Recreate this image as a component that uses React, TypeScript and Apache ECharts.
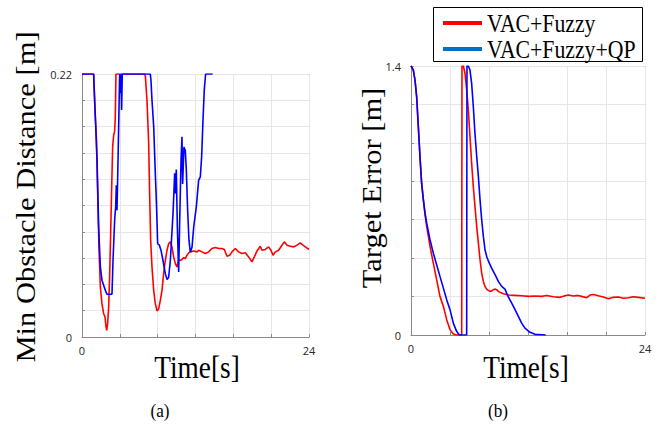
import React, { useEffect, useRef } from "react";
import * as echarts from "echarts";

// ---- Data ----
// (a) Min obstacle distance [m] vs time [s]
const timeDistFuzzy = [0, 1.23, 1.37, 1.52, 1.66, 1.8, 1.94, 2.11, 2.29, 2.43, 2.54, 2.61, 2.71, 2.82, 2.92, 3.03, 3.14, 3.24, 3.35, 3.45, 3.52, 3.59, 6.63, 6.7, 6.87, 7.05, 7.15, 7.26, 7.4, 7.58, 7.75, 7.93, 8.11, 8.28, 8.46, 8.63, 8.81, 8.99, 9.16, 9.34, 9.51, 9.69, 9.87, 10.04, 10.22, 10.4, 10.57, 10.75, 10.92, 11.1, 11.28, 11.45, 11.81, 12.16, 12.33, 12.69, 13.04, 13.39, 13.74, 14.1, 14.45, 14.8, 15.05, 15.33, 15.61, 15.86, 16.21, 16.56, 16.92, 17.27, 17.62, 17.97, 18.22, 18.5, 18.85, 19.03, 19.38, 19.73, 19.98, 20.19, 20.44, 20.79, 21.14, 21.39, 21.67, 22.03, 22.38, 22.73, 23.08, 23.36, 23.72, 24];
const distFuzzy = [0.22, 0.22, 0.19, 0.1675, 0.12, 0.0726, 0.0419, 0.0279, 0.0195, 0.0168, 0.0084, 0.0056, 0.0112, 0.0251, 0.0503, 0.0866, 0.1256, 0.159, 0.169, 0.172, 0.184, 0.22, 0.22, 0.218, 0.198, 0.162, 0.12, 0.081, 0.0586, 0.039, 0.0279, 0.0218, 0.0237, 0.0307, 0.039, 0.053, 0.0642, 0.0726, 0.078, 0.0796, 0.0754, 0.067, 0.0614, 0.0586, 0.0642, 0.0642, 0.0648, 0.0664, 0.0656, 0.0684, 0.0704, 0.0712, 0.072, 0.0712, 0.0726, 0.0712, 0.0698, 0.0712, 0.074, 0.0748, 0.074, 0.074, 0.0732, 0.0676, 0.0684, 0.0712, 0.074, 0.0712, 0.0698, 0.0704, 0.067, 0.0628, 0.067, 0.072, 0.0759, 0.0726, 0.0732, 0.0754, 0.0726, 0.0684, 0.0712, 0.0726, 0.0768, 0.0796, 0.0768, 0.0759, 0.0754, 0.0768, 0.0787, 0.0768, 0.0748, 0.0732];
const timeDistQP = [0, 1.23, 1.59, 1.76, 1.94, 2.11, 2.47, 2.64, 3.17, 3.28, 3.45, 3.56, 3.63, 3.7, 3.81, 3.91, 3.98, 4.05, 4.12, 4.19, 4.26, 7.22, 7.29, 7.4, 7.58, 7.75, 7.86, 8.0, 8.18, 8.35, 8.56, 8.81, 8.99, 9.16, 9.34, 9.62, 9.8, 9.87, 9.97, 10.08, 10.22, 10.33, 10.47, 10.57, 10.64, 10.78, 10.92, 11.03, 11.17, 11.31, 11.45, 11.63, 11.81, 12.09, 12.33, 12.51, 12.65, 12.79, 12.93, 13.07, 13.81];
const distQP = [0.22, 0.22, 0.148, 0.092, 0.0586, 0.0475, 0.039, 0.0357, 0.0357, 0.0642, 0.0977, 0.109, 0.127, 0.106, 0.148, 0.19, 0.22, 0.204, 0.22, 0.19, 0.22, 0.22, 0.215, 0.198, 0.176, 0.137, 0.1145, 0.078, 0.0768, 0.0726, 0.0642, 0.053, 0.048, 0.05, 0.064, 0.103, 0.137, 0.12, 0.14, 0.092, 0.0544, 0.0977, 0.148, 0.1675, 0.128, 0.159, 0.156, 0.14, 0.106, 0.081, 0.071, 0.075, 0.092, 0.109, 0.131, 0.134, 0.151, 0.181, 0.207, 0.22, 0.22];

// (b) Target error [m] vs time [s]
const timeErrFuzzy = [0, 0.24, 0.41, 0.58, 0.75, 0.92, 1.09, 1.27, 1.44, 1.61, 1.95, 2.29, 2.63, 2.97, 3.32, 3.66, 4.0, 4.34, 4.68, 5.2, 5.23, 5.37, 5.54, 5.71, 5.88, 6.05, 6.22, 6.39, 6.56, 6.74, 6.91, 7.08, 7.25, 7.42, 7.59, 7.76, 7.93, 8.1, 8.27, 8.45, 8.62, 8.79, 8.96, 9.13, 9.47, 9.98, 10.67, 11.35, 12.03, 12.72, 13.4, 13.92, 14.6, 15.28, 15.8, 16.14, 16.65, 17.16, 17.51, 18.02, 18.36, 18.7, 19.22, 19.73, 20.24, 20.75, 21.27, 21.78, 22.29, 22.8, 23.32, 24];
const errFuzzy = [1.4, 1.379, 1.327, 1.24, 1.085, 0.929, 0.79, 0.703, 0.625, 0.565, 0.461, 0.374, 0.288, 0.201, 0.149, 0.08, 0.028, 0.005, 0, 0, 1.4, 1.4, 1.362, 1.275, 1.171, 1.033, 0.894, 0.773, 0.669, 0.565, 0.478, 0.392, 0.322, 0.279, 0.253, 0.239, 0.232, 0.227, 0.229, 0.236, 0.239, 0.236, 0.227, 0.222, 0.215, 0.208, 0.206, 0.204, 0.201, 0.203, 0.201, 0.206, 0.199, 0.196, 0.204, 0.208, 0.203, 0.206, 0.201, 0.194, 0.208, 0.211, 0.204, 0.198, 0.189, 0.196, 0.198, 0.191, 0.194, 0.199, 0.196, 0.191];
const timeErrQP = [0, 0.24, 0.41, 0.58, 0.75, 0.92, 1.09, 1.27, 1.44, 1.61, 1.95, 2.29, 2.63, 2.97, 3.32, 3.66, 4.0, 4.34, 4.68, 4.96, 5.71, 5.74, 5.88, 6.05, 6.22, 6.39, 6.56, 6.74, 6.91, 7.08, 7.25, 7.42, 7.59, 7.76, 7.93, 8.27, 8.62, 8.96, 9.3, 9.64, 9.81, 9.98, 10.33, 10.67, 11.01, 11.35, 11.69, 12.21, 12.72, 13.81];
const errQP = [1.4, 1.379, 1.327, 1.24, 1.085, 0.929, 0.79, 0.703, 0.634, 0.582, 0.496, 0.426, 0.366, 0.305, 0.244, 0.184, 0.132, 0.062, 0.019, 0, 0, 1.4, 1.4, 1.379, 1.31, 1.189, 1.05, 0.929, 0.825, 0.703, 0.6, 0.513, 0.444, 0.409, 0.386, 0.348, 0.314, 0.279, 0.253, 0.239, 0.218, 0.198, 0.166, 0.132, 0.097, 0.062, 0.036, 0.014, 0.0035, 0];

const seriesNames = ["VAC+Fuzzy", "VAC+Fuzzy+QP"];
const xTickLabels = ["0", "24"];
const yTickLabelsA = ["0", "0.22"];
const yTickLabelsB = ["0", "1.4"];

const zip = (t: number[], v: number[]) => t.map((x, i) => [x, v[i]]);

const RED = "#ff0000";
const BLUE = "#0000ff";
const LEGEND_BLUE = "#0070c0";
const SERIF = '"Liberation Serif", "Times New Roman", serif';

function makeXAxis(gridIndex: number) {
  return {
    gridIndex,
    type: "value",
    min: 0,
    max: 24,
    interval: 4,
    axisLine: { show: true, onZero: false, lineStyle: { color: "#8a8a8a", width: 1 } },
    axisTick: { show: true, inside: true, length: 3, lineStyle: { color: "#8a8a8a" } },
    splitLine: { show: true, lineStyle: { color: "#e6e6e6", width: 1 } },
    axisLabel: {
      fontFamily: "Open Sans",
      fontSize: 11,
      color: "#262626",
      margin: 8,
      formatter: (v: number) =>
        Math.abs(v) < 1e-9 ? xTickLabels[0] : Math.abs(v - 24) < 1e-9 ? xTickLabels[1] : "",
    },
  };
}

function makeYAxis(gridIndex: number, max: number, interval: number, labels: string[]) {
  return {
    gridIndex,
    type: "value",
    min: 0,
    max,
    interval,
    axisLine: { show: true, onZero: false, lineStyle: { color: "#8a8a8a", width: 1 } },
    axisTick: { show: true, inside: true, length: 3, lineStyle: { color: "#8a8a8a" } },
    splitLine: { show: true, lineStyle: { color: "#e6e6e6", width: 1 } },
    axisLabel: {
      fontFamily: "Open Sans",
      fontSize: 11,
      color: "#262626",
      margin: 10,
      formatter: (v: number) =>
        Math.abs(v) < 1e-9 ? labels[0] : Math.abs(v - max) < 1e-6 ? labels[1] : "",
    },
  };
}

function lineSeries(name: string, data: number[][], color: string, idx: number) {
  return {
    name,
    type: "line",
    xAxisIndex: idx,
    yAxisIndex: idx,
    data,
    showSymbol: false,
    symbol: "none",
    lineStyle: { color, width: 1.6 },
    itemStyle: { color },
  };
}

export default function App() {
  const ref = useRef<HTMLDivElement>(null);
  useEffect(() => {
    document.body.style.margin = "0";
    if (!ref.current) return;
    const chart = echarts.init(ref.current, undefined, { renderer: "svg" });
    chart.setOption({
      animation: false,
      backgroundColor: "#ffffff",
      grid: [
        { left: 82, top: 74, width: 227, height: 263 },
        { left: 411, top: 66, width: 234, height: 269 },
      ],
      xAxis: [makeXAxis(0), makeXAxis(1)],
      yAxis: [
        makeYAxis(0, 0.22, 0.022, yTickLabelsA),
        makeYAxis(1, 1.4, 0.2, yTickLabelsB),
      ],
      series: [
        lineSeries(seriesNames[0], zip(timeDistFuzzy, distFuzzy), RED, 0),
        lineSeries(seriesNames[1], zip(timeDistQP, distQP), BLUE, 0),
        lineSeries(seriesNames[0], zip(timeErrFuzzy, errFuzzy), RED, 1),
        lineSeries(seriesNames[1], zip(timeErrQP, errQP), BLUE, 1),
      ],
      graphic: [
        {
          type: "text",
          x: 25,
          y: 197,
          rotation: Math.PI / 2,
          scaleY: 0.92,
          style: {
            text: "Min Obstacle Distance [m]",
            font: `30.5px ${SERIF}`,
            fill: "#000",
            textAlign: "center",
            textVerticalAlign: "middle",
          },
        },
        {
          type: "text",
          x: 371,
          y: 188,
          rotation: Math.PI / 2,
          scaleY: 0.92,
          style: {
            text: "Target Error [m]",
            font: `30.5px ${SERIF}`,
            fill: "#000",
            textAlign: "center",
            textVerticalAlign: "middle",
          },
        },
        {
          type: "text",
          x: 197,
          y: 367,
          scaleX: 0.84,
          style: {
            text: "Time[s]",
            font: `32.5px ${SERIF}`,
            fill: "#000",
            textAlign: "center",
            textVerticalAlign: "middle",
          },
        },
        {
          type: "text",
          x: 526,
          y: 367,
          scaleX: 0.84,
          style: {
            text: "Time[s]",
            font: `32.5px ${SERIF}`,
            fill: "#000",
            textAlign: "center",
            textVerticalAlign: "middle",
          },
        },
        {
          type: "text",
          x: 160,
          y: 411,
          scaleX: 0.88,
          style: { text: "(a)", font: `19.5px ${SERIF}`, fill: "#000", textAlign: "center", textVerticalAlign: "middle" },
        },
        {
          type: "text",
          x: 498,
          y: 411,
          scaleX: 0.88,
          style: { text: "(b)", font: `19.5px ${SERIF}`, fill: "#000", textAlign: "center", textVerticalAlign: "middle" },
        },
        {
          type: "group",
          z: 100,
          children: [
            {
              type: "rect",
              shape: { x: 433.5, y: 7.5, width: 209, height: 54 },
              style: { fill: "#fff", stroke: "#000", lineWidth: 1 },
            },
            {
              type: "line",
              shape: { x1: 443, y1: 23, x2: 482, y2: 23 },
              style: { stroke: RED, lineWidth: 4 },
            },
            {
              type: "line",
              shape: { x1: 443, y1: 49, x2: 482, y2: 49 },
              style: { stroke: LEGEND_BLUE, lineWidth: 4 },
            },
            {
              type: "text",
              x: 487,
              y: 23,
              scaleX: 0.87,
              style: { text: seriesNames[0], font: `25px ${SERIF}`, fill: "#000", textAlign: "left", textVerticalAlign: "middle" },
            },
            {
              type: "text",
              x: 487,
              y: 49,
              scaleX: 0.87,
              style: { text: seriesNames[1], font: `25px ${SERIF}`, fill: "#000", textAlign: "left", textVerticalAlign: "middle" },
            },
          ],
        },
      ],
    });
    return () => chart.dispose();
  }, []);
  return <div ref={ref} style={{ width: 669, height: 432 }} />;
}
